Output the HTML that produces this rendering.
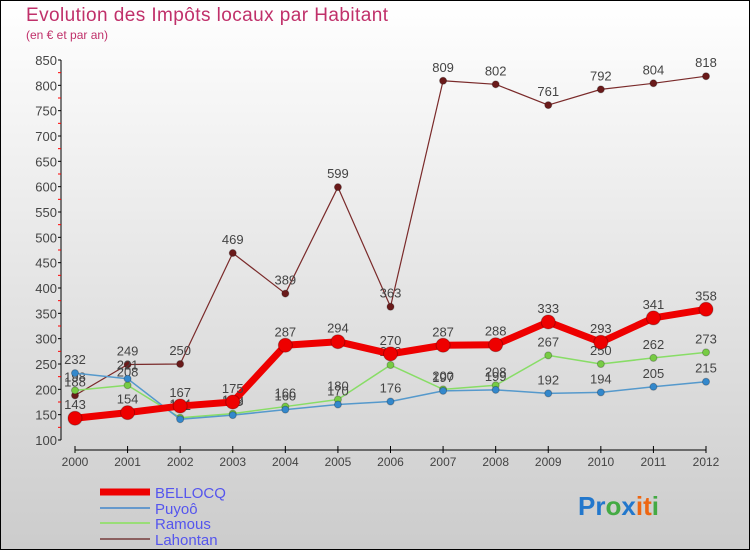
<!DOCTYPE html>
<html><head><meta charset="utf-8"><style>
body{margin:0;width:750px;height:550px;overflow:hidden}
svg{display:block;font-family:"Liberation Sans",sans-serif}
</style></head><body>
<svg id="c" width="750" height="550">
<defs><linearGradient id="bg" x1="0" y1="0" x2="0" y2="1"><stop offset="0" stop-color="#ffffff"/><stop offset="1" stop-color="#cccccc"/></linearGradient></defs>
<rect x="0.5" y="0.5" width="749" height="549" fill="url(#bg)" stroke="#000"/>
<text x="26" y="21" font-size="19" fill="#c0306a" textLength="362">Evolution des Impôts locaux par Habitant</text>
<text x="26" y="39" font-size="12" fill="#c0306a">(en € et par an)</text>
<g id="axes"></g><g id="series"></g>
<g>
<line x1="100" y1="492" x2="150" y2="492" stroke="#ee0000" stroke-width="7"/><text x="155" y="498" font-size="15" fill="#5555ee">BELLOCQ</text>
<line x1="100" y1="508" x2="150" y2="508" stroke="#6699cc" stroke-width="2"/><text x="155" y="514" font-size="15" fill="#5555ee">Puyoô</text>
<line x1="100" y1="523" x2="150" y2="523" stroke="#99dd77" stroke-width="2"/><text x="155" y="529" font-size="15" fill="#5555ee">Ramous</text>
<line x1="100" y1="539" x2="150" y2="539" stroke="#8b6060" stroke-width="2"/><text x="155" y="545" font-size="15" fill="#5555ee">Lahontan</text>
</g>
<text x="578" y="515" font-size="26" font-weight="bold"><tspan fill="#2277cc">Pr</tspan><tspan fill="#44aa44">o</tspan><tspan fill="#2277cc">x</tspan><tspan fill="#ee6611">i</tspan><tspan fill="#ee6611">t</tspan><tspan fill="#44aa44">i</tspan></text>
</svg>
<script>
const years=["2000","2001","2002","2003","2004","2005","2006","2007","2008","2009","2010","2011","2012"];
const yTicks=[100,150,200,250,300,350,400,450,500,550,600,650,700,750,800,850];
const bellocq=[143,154,167,175,287,294,270,287,288,333,293,341,358];
const puyoo=[232,221,141,149,160,170,176,197,199,192,194,205,215];
const ramous=[198,208,144,152,166,180,248,200,208,267,250,262,273];
const lahontan=[188,249,250,469,389,599,363,809,802,761,792,804,818];
const NS="http://www.w3.org/2000/svg";
const X=i=>75+i*(706-75)/12;
const Y=v=>440-(v-100)*(380/750);
function mk(t,a,p){const e=document.createElementNS(NS,t);for(const k in a)e.setAttribute(k,a[k]);p.appendChild(e);return e;}
const ax=document.getElementById('axes');
const ya=mk('line',{x1:61,y1:Y(850),x2:61,y2:440,stroke:'#000'},ax);


yTicks.forEach((v,i)=>{mk('line',{x1:58,y1:Y(v),x2:61,y2:Y(v),stroke:'#000'},ax);
 if(i<yTicks.length-1)mk('line',{x1:58,y1:Y(v+25),x2:61,y2:Y(v+25),stroke:'#f00'},ax);
 const t=mk('text',{x:57,y:Y(v)+5,'font-size':13,fill:'#444','text-anchor':'end'},ax);t.textContent=v;
 
 });
const xa=mk('line',{x1:X(0),y1:450,x2:X(12),y2:450,stroke:'#000'},ax);


years.forEach((y,i)=>{mk('line',{x1:X(i),y1:446,x2:X(i),y2:453,stroke:'#000'},ax);
 const t=mk('text',{x:X(i),y:466,'font-size':12,fill:'#444','text-anchor':'middle'},ax);t.textContent=y;
 
 });
const sg=document.getElementById('series');
function draw(name,vals,col,w,r,dot){
 const g=mk('g',{},sg);
 
 
 mk('polyline',{points:vals.map((v,i)=>X(i)+','+Y(v)).join(' '),fill:'none',stroke:col,'stroke-width':w,'stroke-linejoin':'round'},g);
 vals.forEach((v,i)=>{const c=mk('circle',{cx:X(i),cy:Y(v),r:r,fill:dot,stroke:'rgba(0,0,0,0.25)'},g);
  
  
  const t=mk('text',{x:X(i),y:Y(v)-9,'font-size':13,fill:'#444','text-anchor':'middle'},g);t.textContent=v;
  
  });
}
draw('lahontan-series',lahontan,'#7a2a2a',1.2,3.5,'#6a1a1a');
draw('ramous-series',ramous,'#88dd66',1.5,3.5,'#77cc44');
draw('puyoo-series',puyoo,'#5599cc',1.5,3.5,'#3388cc');
draw('bellocq-series',bellocq,'#ee0000',7,7,'#ee0000');
</script>
</body></html>
